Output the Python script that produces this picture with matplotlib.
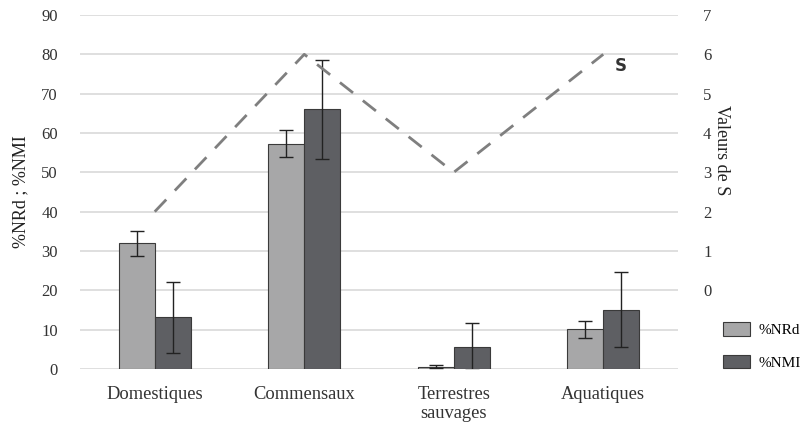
import matplotlib.pyplot as plt
import matplotlib.patches as mpatches
import numpy as np

# data
categories = ['Domestiques', 'Commensaux', 'Terrestres\nsauvages', 'Aquatiques']
nrd = [32.0, 57.3, 0.6, 10.1]
nrd_err = [3.2, 3.5, 0.3, 2.1]
nmi = [13.1, 66.0, 5.7, 15.1]
nmi_err = [9.0, 12.5, 6.0, 9.6]
s_values = [2, 6, 3, 6]

plt.rcParams['font.family'] = ['Liberation Serif', 'DejaVu Serif']

c_nrd = '#a7a7a8'
c_nmi = '#5e5f63'

fig = plt.figure(figsize=(8.03, 4.23), dpi=100)
ax = fig.add_axes([80 / 803, 1 - 369 / 423, 598 / 803, 354 / 423])

x = np.arange(len(categories))
w = 0.24

ax.bar(x - w / 2, nrd, w, color=c_nrd, edgecolor='#3a3a3a', linewidth=0.8, zorder=2)
ax.bar(x + w / 2, nmi, w, color=c_nmi, edgecolor='#3a3a3a', linewidth=0.8, zorder=2)
ax.errorbar(x - w / 2, nrd, yerr=nrd_err, fmt='none', ecolor='#222222',
            elinewidth=1.0, capsize=5, capthick=1.0, zorder=3)
ax.errorbar(x + w / 2, nmi, yerr=nmi_err, fmt='none', ecolor='#222222',
            elinewidth=1.0, capsize=5, capthick=1.0, zorder=3)

ax.set_xlim(-0.5, len(categories) - 0.5)
ax.set_ylim(0, 90)
ax.set_yticks(range(0, 91, 10))
ax.yaxis.grid(True, color='#d9d9d9', linewidth=1.2, zorder=0)
ax.set_axisbelow(True)
ax.set_xticks(x)
ax.set_xticklabels(categories, fontsize=13.3, color='#222222')
ax.tick_params(axis='both', length=0, labelsize=12, labelcolor='#333333')
ax.tick_params(axis='x', pad=12, labelsize=13.3)
ax.tick_params(axis='y', pad=16)
for sp in ax.spines.values():
    sp.set_visible(False)
ax.set_ylabel('%NRd ; %NMI', fontsize=13, color='#222222')
ax.yaxis.set_label_coords(-0.084, 0.5)

# secondary axis for S
ax2 = ax.twinx()
ax2.set_ylim(-2, 7)
ax2.set_yticks(range(0, 8))
ax2.plot(x, s_values, color='#7f7f7f', linewidth=2, linestyle=(0, (6, 4.5)), zorder=4)
ax2.text(3.08, 5.7, 'S', fontsize=12, fontweight='bold', family='DejaVu Sans',
         color='#333333', va='center', ha='left')
ax2.tick_params(axis='y', length=0, labelsize=12, labelcolor='#333333', pad=18)
for sp in ax2.spines.values():
    sp.set_visible(False)
fig.text(722 / 803, 1 - 150 / 423, 'Valeurs de S', fontsize=13, color='#222222',
         rotation=270, ha='center', va='center')

handles = [mpatches.Patch(facecolor=c_nrd, edgecolor='#3a3a3a', linewidth=0.8, label='%NRd'),
           mpatches.Patch(facecolor=c_nmi, edgecolor='#3a3a3a', linewidth=0.8, label='%NMI')]
fig.legend(handles=handles, loc='upper left', bbox_to_anchor=(723 / 803, 1 - 322 / 423),
           frameon=False, fontsize=11, labelspacing=1.15, handlelength=1.75,
           handleheight=1.0, handletextpad=0.55, borderpad=0, borderaxespad=0)

fig.savefig('out.png', dpi=100)
